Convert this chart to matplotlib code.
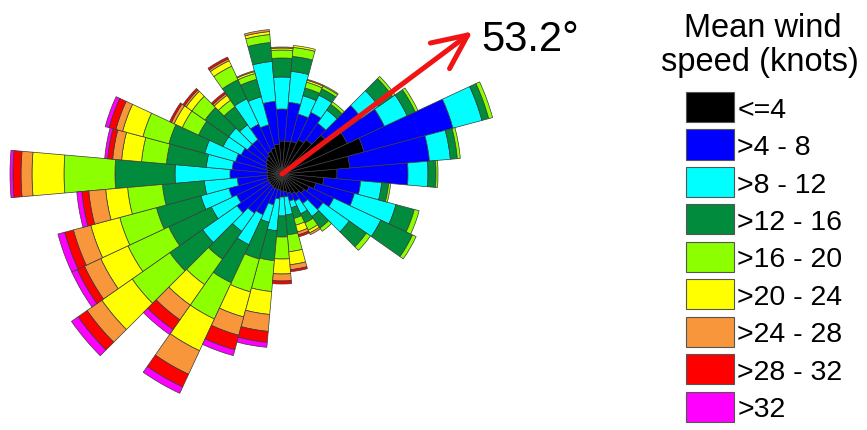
import numpy as np
import matplotlib
matplotlib.use("Agg")
import matplotlib.pyplot as plt
from matplotlib.patches import Patch

plt.rcParams['font.family'] = ['Liberation Sans', 'DejaVu Sans']

# wind direction bins (degrees from north, clockwise)
directions = np.arange(0, 360, 10)

# frequency (%) of each speed class per direction bin
calm = [3.3, 3.3, 3.4, 3.8, 4.2, 5.5, 7.2, 8.5, 6.8, 5.5, 4.2, 3.5, 3.0, 2.7, 2.4, 2.2, 2.0, 1.8,
        1.7, 1.6, 1.6, 1.6, 1.5, 1.5, 1.5, 1.5, 1.5, 1.5, 1.5, 1.6, 1.8, 2.0, 2.2, 2.5, 2.7, 3.0]
spd_4_8 = [3.2, 3.9, 2.8, 3.0, 2.0, 4.2, 4.1, 9.2, 8.0, 7.1, 3.7, 4.0, 2.7, 2.3, 1.2, 0.8, 0.8, 0.5,
           0.6, 0.9, 1.6, 2.9, 3.3, 4.0, 3.5, 4.0, 3.0, 3.7, 3.5, 3.2, 2.7, 2.2, 2.0, 3.0, 2.4, 4.3]
spd_8_12 = [3.2, 3.1, 1.9, 1.9, 1.6, 2.1, 2.5, 3.0, 2.1, 2.0, 2.1, 4.3, 5.2, 3.2, 1.6, 1.4, 0.7, 1.8,
            1.9, 3.2, 1.8, 3.3, 2.2, 4.2, 2.8, 2.9, 3.3, 5.5, 2.6, 3.2, 2.0, 2.3, 1.8, 2.8, 2.9, 4.0]
spd_12_16 = [1.9, 1.5, 0.8, 0.7, 0.7, 1.7, 0.9, 0.7, 0.7, 0.8, 0.7, 1.9, 3.5, 2.1, 1.4, 1.0, 1.1, 2.0,
             2.1, 3.0, 3.8, 4.2, 3.4, 4.0, 4.7, 4.6, 4.2, 6.0, 4.0, 3.7, 2.7, 2.9, 2.2, 2.1, 1.8, 1.9]
spd_16_20 = [0.8, 0.9, 0.6, 0.3, 0.3, 0.3, 0.3, 0.4, 0.3, 0.2, 0.2, 0.5, 0.4, 0.5, 0.4, 0.8, 0.7, 1.7,
             2.2, 3.1, 3.4, 4.0, 3.1, 4.6, 4.5, 3.8, 3.5, 5.1, 2.5, 2.7, 1.8, 1.6, 0.8, 1.5, 0.6, 0.8]
spd_20_24 = [0.2, 0.2, 0.2, 0.1, 0, 0, 0, 0, 0, 0, 0, 0, 0, 0, 0, 0.3, 0.7, 1.3,
             1.5, 2.3, 2.6, 3.5, 2.5, 3.7, 3.0, 3.0, 2.2, 3.2, 2.0, 2.1, 0.9, 0.7, 0.6, 0.6, 0.2, 0.3]
spd_24_28 = [0.1, 0, 0.1, 0, 0, 0, 0, 0, 0, 0, 0, 0, 0, 0, 0, 0.2, 0.3, 0.5,
             0.7, 1.7, 1.9, 2.6, 1.8, 1.8, 1.8, 1.8, 1.7, 1.1, 0.9, 0.7, 0.3, 0.2, 0.2, 0.2, 0.1, 0.2]
spd_28_32 = [0, 0, 0, 0, 0, 0, 0, 0, 0, 0, 0, 0, 0, 0, 0, 0, 0.2, 0.2,
             0.3, 1.1, 1.5, 1.4, 1.2, 1.1, 0.8, 0.9, 0.7, 0.8, 0.5, 0.7, 0.2, 0.2, 0.2, 0.2, 0, 0]
spd_32 = [0, 0, 0, 0, 0, 0, 0, 0, 0, 0, 0, 0, 0, 0, 0, 0, 0, 0,
          0, 0.5, 0.6, 0.7, 0.6, 0.8, 0.6, 0.7, 0.5, 0.3, 0.3, 0.4, 0, 0, 0, 0, 0, 0]

speed_labels = ['<=4', '>4 - 8', '>8 - 12', '>12 - 16', '>16 - 20',
                '>20 - 24', '>24 - 28', '>28 - 32', '>32']
mean_direction = 53.2

classes = [calm, spd_4_8, spd_8_12, spd_12_16, spd_16_20, spd_20_24, spd_24_28, spd_28_32, spd_32]
colors = ['#000000', '#0000FF', '#00FFFF', '#008C3C', '#8CFF00',
          '#FFFF00', '#F7963A', '#FF0000', '#FF00FF']

W, H = 867, 431
cx, cy = 282, 175      # rose centre in pixels
scale = 10             # pixels per percent
rmax = 28

fig = plt.figure(figsize=(W / 100, H / 100), dpi=100)
ax = fig.add_axes([(cx - rmax * scale) / W, (H - cy - rmax * scale) / H,
                   2 * rmax * scale / W, 2 * rmax * scale / H], projection='polar')
ax.set_theta_zero_location('N')
ax.set_theta_direction(-1)
ax.set_ylim(0, rmax)
ax.set_axis_off()

theta = np.radians(directions)
bottom = np.zeros(len(directions))
for values, color in zip(classes, colors):
    values = np.asarray(values, dtype=float)
    m = values > 0
    ax.bar(theta[m], values[m], width=np.radians(10), bottom=bottom[m],
           color=color, edgecolor='#3a3a3a', linewidth=0.5, align='center')
    bottom += values

# mean direction arrow
ax.annotate('', xy=(np.radians(mean_direction), 23.8), xytext=(0, 0),
            arrowprops=dict(arrowstyle='->,head_length=1.0,head_width=0.46',
                            mutation_scale=25, lw=3.6, color='#F01414',
                            shrinkA=0, shrinkB=0, capstyle='round', joinstyle='round'))
fig.text(481 / W, 1 - 40 / H, '%.1f°' % mean_direction, fontsize=30, ha='left', va='center')

# legend title
fig.text(763 / W, 1 - 37 / H, 'Mean wind', fontsize=23.5, ha='center', va='baseline')
fig.text(760 / W, 1 - 71 / H, 'speed (knots)', fontsize=23.5, ha='center', va='baseline')

handles = [Patch(facecolor=c, edgecolor='#555555', linewidth=0.8) for c in colors]
leg = fig.legend(handles, speed_labels, loc='upper left', bbox_to_anchor=(686 / W, 1 - 93 / H),
                 frameon=False, fontsize=20.5,
                 handlelength=1.68, handleheight=1.25, labelspacing=0.24, handletextpad=0.12,
                 borderpad=0, borderaxespad=0)

fig.savefig('out.png', dpi=100)
